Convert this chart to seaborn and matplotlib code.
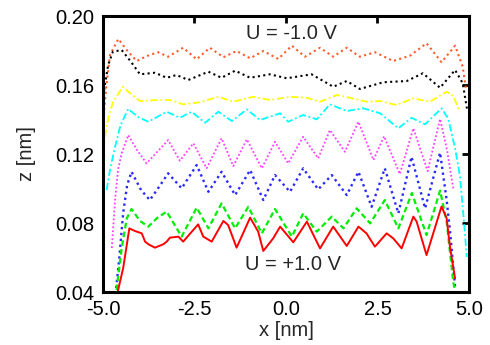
import matplotlib
matplotlib.use("Agg")
import matplotlib.pyplot as plt
import seaborn as sns
import pandas as pd

# ---- data ----
x_orange = [-4.97, -4.90, -4.81, -4.58, -4.34, -4.08, -3.80, -3.49, -3.22, -2.81, -2.44, -2.08, -1.71, -1.35, -0.98, -0.62, -0.21, 0.16, 0.52, 0.93, 1.29, 1.66, 2.02, 2.43, 2.93, 3.39, 3.84, 4.25, 4.62, 4.83, 4.92]
y_orange = [0.1455, 0.161, 0.1774, 0.1867, 0.180, 0.1739, 0.1768, 0.1790, 0.1764, 0.1816, 0.1749, 0.1816, 0.1761, 0.1797, 0.1755, 0.1797, 0.1751, 0.1828, 0.1764, 0.1816, 0.1764, 0.1816, 0.1764, 0.1790, 0.1739, 0.1770, 0.1842, 0.1732, 0.1828, 0.1706, 0.157]

x_black = [-4.97, -4.86, -4.73, -4.49, -4.23, -3.99, -3.58, -3.26, -2.99, -2.67, -2.12, -1.76, -1.39, -0.98, -0.44, 0.02, 0.70, 1.29, 1.66, 2.02, 2.66, 3.30, 3.74, 4.21, 4.62, 4.83, 4.95]
y_black = [0.157, 0.1716, 0.1793, 0.1803, 0.1733, 0.1662, 0.1671, 0.1642, 0.1658, 0.1629, 0.1677, 0.1642, 0.1683, 0.1642, 0.1662, 0.1639, 0.1662, 0.1590, 0.1623, 0.1577, 0.1616, 0.1623, 0.1668, 0.1584, 0.1687, 0.1610, 0.1455]

x_yellow = [-4.95, -4.84, -4.72, -4.46, -4.26, -3.99, -3.53, -3.17, -2.81, -2.35, -1.85, -1.44, -0.89, -0.44, 0.11, 0.57, 0.93, 1.39, 1.75, 2.20, 2.57, 3.02, 3.48, 3.93, 4.39, 4.57, 4.75]
y_yellow = [0.130, 0.1426, 0.1503, 0.1590, 0.1552, 0.1507, 0.1513, 0.1513, 0.1488, 0.1500, 0.1532, 0.1503, 0.1532, 0.1513, 0.1532, 0.1526, 0.1503, 0.1542, 0.1526, 0.1503, 0.1507, 0.1484, 0.1523, 0.1503, 0.1561, 0.1536, 0.1445]

x_cyan = [-4.90, -4.81, -4.67, -4.52, -4.31, -4.04, -3.76, -3.26, -2.90, -2.58, -2.21, -1.85, -1.48, -1.07, -0.71, -0.16, 0.06, 0.47, 0.84, 1.20, 1.66, 2.11, 2.57, 3.07, 3.43, 3.80, 4.25, 4.43, 4.62, 4.75, 4.86, 4.94]
y_cyan = [0.0991, 0.1107, 0.1242, 0.1368, 0.1461, 0.1414, 0.1387, 0.1445, 0.1410, 0.1445, 0.1381, 0.1445, 0.1391, 0.1459, 0.1397, 0.1436, 0.1387, 0.1426, 0.1401, 0.1488, 0.1449, 0.1465, 0.1436, 0.1349, 0.1410, 0.1372, 0.1465, 0.1407, 0.1233, 0.1078, 0.0817, 0.0603]

x_magenta = [-4.76, -4.67, -4.59, -4.49, -4.31, -4.07, -3.81, -3.52, -3.22, -2.90, -2.53, -2.17, -1.76, -1.44, -1.07, -0.66, -0.30, 0.06, 0.47, 0.88, 1.20, 1.61, 1.98, 2.39, 2.68, 3.11, 3.48, 3.87, 4.21, 4.40, 4.57]
y_magenta = [0.0655, 0.0933, 0.1107, 0.1204, 0.1310, 0.1223, 0.1146, 0.1212, 0.1281, 0.1161, 0.1262, 0.1117, 0.1291, 0.1130, 0.1285, 0.1117, 0.1271, 0.1146, 0.1300, 0.1175, 0.1339, 0.1213, 0.1387, 0.1165, 0.1303, 0.1084, 0.1349, 0.1101, 0.1403, 0.1223, 0.1001]

x_blue = [-4.64, -4.56, -4.45, -4.34, -4.22, -3.96, -3.72, -3.47, -3.22, -2.85, -2.44, -2.12, -1.76, -1.39, -0.98, -0.62, -0.30, 0.11, 0.47, 0.88, 1.25, 1.66, 1.98, 2.34, 2.70, 3.07, 3.43, 3.80, 4.21, 4.39, 4.48, 4.62]
y_blue = [0.0423, 0.0586, 0.0856, 0.1020, 0.1097, 0.0991, 0.0933, 0.1009, 0.1088, 0.1001, 0.1136, 0.0981, 0.1097, 0.0962, 0.1107, 0.0933, 0.1078, 0.0981, 0.1117, 0.0995, 0.1078, 0.0962, 0.1097, 0.0894, 0.1117, 0.0856, 0.1184, 0.0885, 0.1208, 0.0933, 0.0759, 0.0429]

x_green = [-4.63, -4.49, -4.35, -4.22, -3.99, -3.76, -3.52, -3.26, -2.85, -2.44, -2.12, -1.76, -1.39, -1.03, -0.66, -0.30, 0.16, 0.47, 0.84, 1.25, 1.57, 1.93, 2.30, 2.70, 3.07, 3.44, 3.84, 4.21, 4.39, 4.57, 4.62]
y_green = [0.0412, 0.0653, 0.0827, 0.0881, 0.0812, 0.0779, 0.0829, 0.0866, 0.0721, 0.0889, 0.0769, 0.0914, 0.0769, 0.0894, 0.0740, 0.0881, 0.0721, 0.0856, 0.0750, 0.0837, 0.0769, 0.0885, 0.0798, 0.0933, 0.0769, 0.0974, 0.0730, 0.0988, 0.0808, 0.0458, 0.0406]

x_red = [-4.60, -4.45, -4.28, -4.13, -3.94, -3.85, -3.76, -3.58, -3.35, -3.26, -3.17, -2.94, -2.81, -2.40, -2.26, -2.03, -1.71, -1.58, -1.35, -0.98, -0.76, -0.62, -0.35, -0.16, 0.20, 0.57, 0.93, 1.29, 1.66, 1.98, 2.20, 2.43, 2.75, 2.93, 3.16, 3.48, 3.57, 3.84, 4.25, 4.39, 4.48, 4.62]
y_red = [0.0400, 0.0537, 0.0769, 0.0754, 0.0740, 0.0692, 0.0677, 0.0657, 0.0677, 0.0692, 0.0715, 0.0721, 0.0692, 0.0792, 0.0721, 0.0692, 0.0812, 0.0788, 0.0657, 0.0831, 0.0750, 0.0638, 0.0711, 0.0779, 0.0688, 0.0808, 0.0653, 0.0779, 0.0667, 0.0779, 0.0740, 0.0663, 0.0740, 0.0711, 0.0653, 0.0837, 0.0808, 0.0614, 0.0896, 0.0827, 0.0663, 0.0479]

x_ticks = [-5.0, -2.5, 0.0, 2.5, 5.0]
y_ticks = [0.04, 0.08, 0.12, 0.16, 0.20]
label_top = "U = -1.0 V"
label_bottom = "U = +1.0 V"

# ---- style ----
sns.set_style("white")
plt.rcParams["font.family"] = ["Liberation Sans", "DejaVu Sans"]

fig = plt.figure(figsize=(4.9, 3.45), dpi=100)
ax = fig.add_axes([0.2102, 0.1536, 0.7469, 0.8000])

series = [
    (x_orange, y_orange, "#ff5a28", (0, (1, 1.6)), 1.5),
    (x_black, y_black, "#000000", (0, (1, 1.6)), 1.5),
    (x_yellow, y_yellow, "#ffff00", (0, (4, 1.5, 1, 1.5)), 1.3),
    (x_cyan, y_cyan, "#00ffff", (0, (4, 1.5, 1, 1.5)), 1.3),
    (x_magenta, y_magenta, "#ff40ff", (0, (1, 1.2)), 1.3),
    (x_blue, y_blue, "#2a2aff", (0, (1, 1.5)), 1.7),
    (x_green, y_green, "#00ee00", (0, (2.5, 1.5)), 1.6),
    (x_red, y_red, "#ff0000", "-", 1.4),
]
for xs, ys, c, ls, lw in series:
    df = pd.DataFrame({"x": xs, "z": ys})
    sns.lineplot(data=df, x="x", y="z", ax=ax, color=c, linestyle=ls,
                 linewidth=lw, sort=False, estimator=None)

ax.set_xlim(-5, 5)
ax.set_ylim(0.04, 0.20)
ax.set_xticks(x_ticks)
ax.set_yticks(y_ticks)
ax.set_xticklabels([f"{v:.1f}" for v in x_ticks])
ax.set_yticklabels([f"{v:.2f}" for v in y_ticks])
ax.tick_params(direction="in", length=5, width=2, top=True, right=True,
               labelsize=14.5, pad=6, colors="black")
for s in ax.spines.values():
    s.set_linewidth(2.2)
    s.set_color("black")
    s.set_visible(True)
ax.set_xlabel("x [nm]", fontsize=14.5, labelpad=1)
ax.set_ylabel("z [nm]", fontsize=14.5, labelpad=14)

ax.text(0.16, 0.1899, label_top, fontsize=14.5, ha="center", va="center")
ax.text(0.18, 0.0562, label_bottom, fontsize=14.5, ha="center", va="center")

fig.savefig("out.png", dpi=100)
